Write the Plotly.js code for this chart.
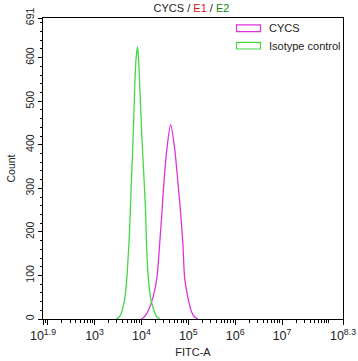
<!DOCTYPE html>
<html>
<head>
<meta charset="utf-8">
<script src="https://cdn.plot.ly/plotly-3.0.1.min.js"></script>
<style>html,body{margin:0;padding:0;background:#fff;}#chart{width:358px;height:361px;}</style>
</head>
<body>
<div id="chart"></div>
<script>
// CYCS histogram (FITC-A values, counts)
var cycsX = [9950, 11600, 13770, 17580, 21430, 24450, 27370, 30200, 35000, 42000, 51100, 60000, 68500, 76700, 83400, 98100, 115900, 135000, 160300];
var cycsY = [0, 5, 18, 49, 95, 172, 245, 314, 391, 446, 391, 314, 245, 172, 95, 49, 18, 5, 0];
// Isotype control histogram
var isoX = [2920, 3300, 3730, 4400, 4920, 5430, 5820, 6110, 6620, 7190, 7640, 8220, 8730, 9200, 10300, 11400, 12190, 12800, 13900, 15800, 19300, 21700, 24700];
var isoY = [0, 4, 14, 46, 99, 176, 253, 318, 410, 533, 594, 625, 594, 533, 410, 318, 253, 176, 99, 46, 14, 4, 0];

var seriesNames = ['CYCS', 'Isotype control'];
var seriesColors = ['#DD33DD', '#44D844'];

var xTickExp = [1.9, 2, 3, 4, 5, 6, 7, 8.3];
var xTickExpText = ['1.9', '', '3', '4', '5', '6', '7', '8.3'];
var yTickVals = [0, 100, 200, 300, 400, 500, 600, 691];
var yTickText = ['0', '100', '200', '300', '400', '500', '600', '691'];

var xTickText = xTickExpText.map(function(s){
  return s === '' ? ' ' : '10<sup>' + s + '</sup>';
});

var xMinor = [];
for (var k = 1; k <= 8; k++) {
  for (var m = 2; m <= 9; m++) {
    var v = m * Math.pow(10, k);
    if (Math.log10(v) > 1.9 && Math.log10(v) < 8.3) xMinor.push(v);
  }
}
xMinor.push(1e8);
var yMinor = [];
for (var t = 20; t < 691; t += 20) { if (t % 100 !== 0) yMinor.push(t); }

var traces = [
  {x: cycsX, y: cycsY, type: 'scatter', mode: 'lines', name: seriesNames[0],
   line: {color: seriesColors[0], width: 1.3, shape: 'spline', smoothing: 0.8}, showlegend: false, hoverinfo: 'x+y'},
  {x: isoX, y: isoY, type: 'scatter', mode: 'lines', name: seriesNames[1],
   line: {color: seriesColors[1], width: 1.3, shape: 'spline', smoothing: 0.5}, showlegend: false, hoverinfo: 'x+y'}
];

var font = 'Liberation Sans, Arial, sans-serif';
var layout = {
  width: 358, height: 361,
  margin: {l: 43, r: 15, t: 18, b: 42, pad: 0},
  paper_bgcolor: '#fff', plot_bgcolor: '#fff',
  font: {family: font, size: 10, color: '#222'},
  title: {text: 'CYCS / <span style="color:#E01010">E1</span> / <span style="color:#108A10">E2</span>',
          font: {family: font, size: 11, color: '#222'}, x: 0.535, xanchor: 'center', y: 0.978, yanchor: 'middle'},
  xaxis: {
    type: 'log', range: [1.9, 8.3],
    tickmode: 'array', tickvals: xTickExp.map(function(e){return Math.pow(10, e);}), ticktext: xTickText,
    tickangle: 0,
    ticks: 'outside', ticklen: 5, tickwidth: 1, tickcolor: '#000',
    minor: {tickmode: 'array', tickvals: xMinor, ticks: 'outside', ticklen: 2.5, tickwidth: 1, tickcolor: '#000', showgrid: false},
    showline: true, linecolor: '#000', linewidth: 1, mirror: true,
    showgrid: false, zeroline: false,
    tickfont: {family: font, size: 12.5, color: '#222'},
    title: {text: 'FITC-A', font: {family: font, size: 11, color: '#222'}, standoff: 6}
  },
  yaxis: {
    range: [0, 691],
    tickmode: 'array', tickvals: yTickVals, ticktext: yTickText, tickangle: -90,
    ticks: 'outside', ticklen: 4, tickwidth: 1, tickcolor: '#000',
    minor: {tickmode: 'array', tickvals: yMinor, ticks: 'outside', ticklen: 2, tickwidth: 1, tickcolor: '#000', showgrid: false},
    showline: true, linecolor: '#000', linewidth: 1, mirror: true,
    showgrid: false, zeroline: false,
    tickfont: {family: font, size: 10.5, color: '#222'},
    title: {text: 'Count', font: {family: font, size: 10.5, color: '#222'}, standoff: 6}
  },
  showlegend: false,
  shapes: [
    {type: 'rect', xref: 'paper', yref: 'paper', x0: 0.645, x1: 0.725, y0: 0.955, y1: 0.977,
     line: {color: seriesColors[0], width: 1.2}, fillcolor: 'rgba(0,0,0,0)'},
    {type: 'rect', xref: 'paper', yref: 'paper', x0: 0.645, x1: 0.725, y0: 0.897, y1: 0.919,
     line: {color: seriesColors[1], width: 1.2}, fillcolor: 'rgba(0,0,0,0)'}
  ],
  annotations: [
    {xref: 'paper', yref: 'paper', x: 0.745, y: 0.966, xanchor: 'left', yanchor: 'middle', showarrow: false,
     text: seriesNames[0], font: {family: font, size: 11, color: '#222'}},
    {xref: 'paper', yref: 'paper', x: 0.745, y: 0.908, xanchor: 'left', yanchor: 'middle', showarrow: false,
     text: seriesNames[1], font: {family: font, size: 11, color: '#222'}}
  ]
};

Plotly.newPlot('chart', traces, layout, {displayModeBar: false, staticPlot: true});
</script>
</body>
</html>
